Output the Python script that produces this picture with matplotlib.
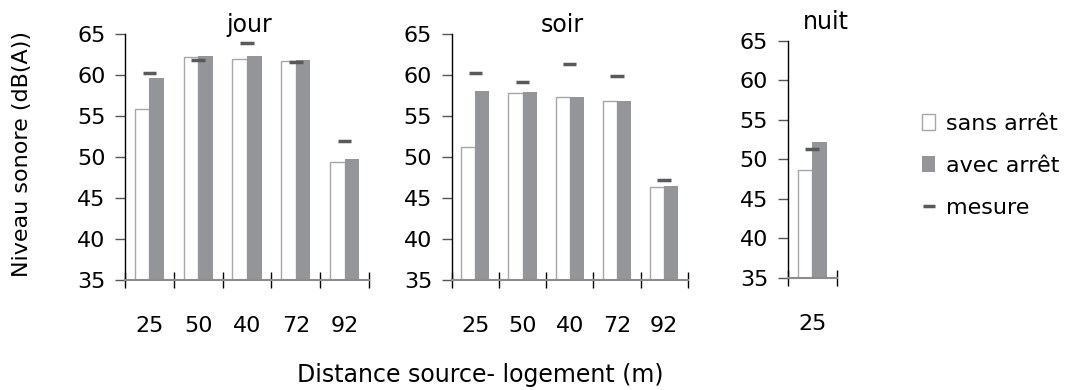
import numpy as np
import matplotlib
matplotlib.use('Agg')
import matplotlib.pyplot as plt
from matplotlib.patches import Patch
from matplotlib.lines import Line2D

# values (dB(A))
distances = ['25', '50', '40', '72', '92']
jour_sans = [55.9, 62.2, 62.0, 61.7, 49.4]
jour_avec = [59.6, 62.3, 62.3, 61.8, 49.7]
jour_mesure = [60.2, 61.8, 63.9, 61.6, 52.0]

soir_sans = [51.2, 57.8, 57.3, 56.8, 46.3]
soir_avec = [58.1, 57.9, 57.3, 56.8, 46.5]
soir_mesure = [60.2, 59.2, 61.4, 59.9, 47.2]

nuit_dist = ['25']
nuit_sans = [48.6]
nuit_avec = [52.2]
nuit_mesure = [51.3]

WHITE_EDGE = '#a6a6a6'
GREY = '#939598'
DASH = '#58595b'

W, H = 1082, 390
fig = plt.figure(figsize=(W / 100, H / 100), dpi=100)
plt.rcParams['font.family'] = ['DejaVu Sans']


def rect(l, t, r, b):
    return [l / W, 1 - b / H, (r - l) / W, (b - t) / H]


def panel(box, labels, sans, avec, mesure):
    ax = fig.add_axes(rect(*box))
    n = len(labels)
    x = np.arange(n)
    ax.bar(x - 0.15, sans, 0.3, color='white', edgecolor=WHITE_EDGE, linewidth=1)
    ax.bar(x + 0.15, avec, 0.3, color=GREY, edgecolor='none')
    ax.hlines(mesure, x - 0.14, x + 0.14, color=DASH, linewidth=2.5)

    ax.set_xlim(-0.5, n - 0.5)
    ax.set_ylim(35, 65)
    ax.set_yticks(range(35, 66, 5))
    ax.set_xticks(x)
    ax.set_xticklabels(labels)
    ax.set_xticks(np.arange(n + 1) - 0.5, minor=True)

    for s in ['top', 'right']:
        ax.spines[s].set_visible(False)
    ax.spines['left'].set_color('black')
    ax.spines['left'].set_linewidth(1)
    ax.spines['bottom'].set_color('#8c8c8c')
    ax.spines['bottom'].set_linewidth(1.5)

    ax.tick_params(axis='x', which='major', length=0, pad=26, labelsize=16)
    ax.tick_params(axis='x', which='minor', direction='inout', length=11.5,
                   width=1, color='black')
    ax.tick_params(axis='y', direction='out', length=7, width=1, color='#555555',
                   pad=7, labelsize=16)
    return ax


panel((125, 34, 369, 280), distances, jour_sans, jour_avec, jour_mesure)
panel((451.7, 34, 687.7, 280), distances, soir_sans, soir_avec, soir_mesure)
panel((787.7, 40.7, 836.7, 277.7), nuit_dist, nuit_sans, nuit_avec, nuit_mesure)

# panel titles
fig.text(249 / W, 1 - 25 / H, 'jour', ha='center', va='center', fontsize=17)
fig.text(562 / W, 1 - 25 / H, 'soir', ha='center', va='center', fontsize=17)
fig.text(826 / W, 1 - 22 / H, 'nuit', ha='center', va='center', fontsize=17)

fig.text(22 / W, 1 - 154 / H, 'Niveau sonore (dB(A))', rotation=90,
         ha='center', va='center', fontsize=16)
fig.text(480 / W, 1 - 375 / H, 'Distance source- logement (m)',
         ha='center', va='center', fontsize=17)

handles = [Patch(facecolor='white', edgecolor=WHITE_EDGE),
           Patch(facecolor=GREY, edgecolor='none'),
           Line2D([], [], color=DASH, marker='_', linestyle='none',
                  markersize=8, markeredgewidth=2.5)]
fig.legend(handles, ['sans arrêt', 'avec arrêt', 'mesure'],
           loc='center left', bbox_to_anchor=(922 / W, 1 - 166 / H),
           frameon=False, fontsize=16, handlelength=0.6, handletextpad=0.5,
           labelspacing=1.0, borderaxespad=0, borderpad=0)

fig.savefig('out.png', dpi=100)
